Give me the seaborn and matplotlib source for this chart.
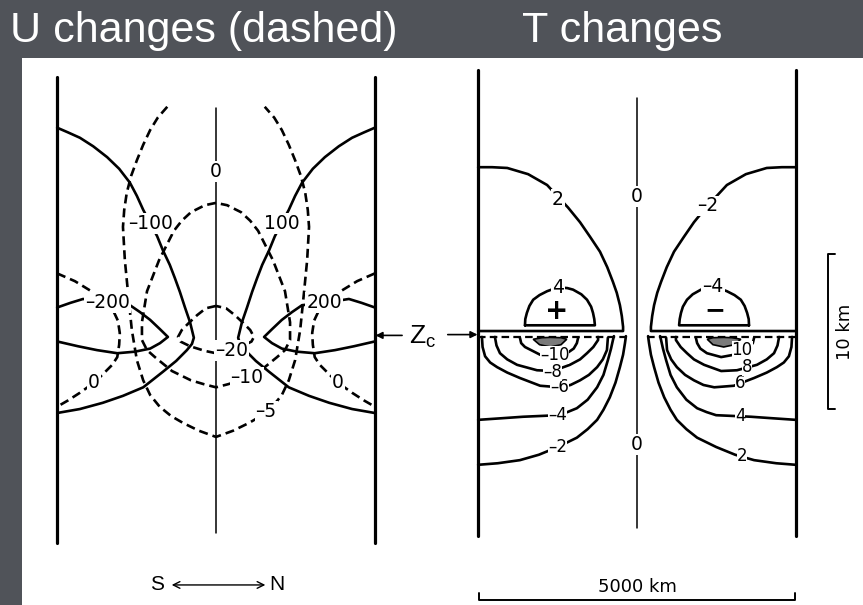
import numpy as np
import matplotlib
matplotlib.use("Agg")
import matplotlib.pyplot as plt
import seaborn as sns

# ---------------------------------------------------------------------------
# Contour traces.  x = distance from the channel centre (km, south < 0),
# z = height above the ground (km).  Each trace is given for the southern
# half of the channel; the northern half is its mirror image.
# ---------------------------------------------------------------------------

# U panel: solid contours
u_solid_100_x = [-2510, -2340, -2150, -1940, -1720, -1530, -1360, -1250, -1150, -1040, -930, -840, -730,
                 -650, -570, -490, -410, -350, -380, -460, -630, -840, -1150, -1470, -1790, -2150, -2500]
u_solid_100_z = [26.6, 26.3, 25.95, 25.4, 24.7, 23.95, 23.05, 22.2, 21.3, 20.45, 19.6, 18.7, 17.75,
                 16.9, 16.0, 15.0, 14.05, 13.05, 12.65, 12.25, 11.55, 10.85, 9.85, 9.3, 8.85, 8.45, 8.2]
u_solid_200_x = [-2510, -2300, -2100, -1710, -1360, -1200, -1040, -885, -760, -885, -1040, -1280, -1560,
                 -1880, -2180, -2500]
u_solid_200_z = [15.0, 15.3, 15.55, 15.3, 15.15, 14.7, 14.2, 13.6, 13.1, 12.7, 12.35, 12.15, 12.05,
                 12.25, 12.5, 12.8]

# U panel: dashed contours
u_dash_0_x = [-2510, -2230, -1990, -1790, -1630, -1550, -1520, -1530, -1560, -1640, -1750, -1910, -2150,
              -2340, -2510]
u_dash_0_z = [17.2, 16.7, 16.1, 15.55, 14.85, 14.15, 13.35, 12.6, 11.8, 11.3, 10.85, 10.2, 9.5, 9.0, 8.6]
u_dash_5_x = [-770, -920, -1040, -1150, -1250, -1340, -1410, -1450, -1470, -1440, -1390, -1330, -1250,
              -1150, -1040, -890, -710, -520, -270, 0]
u_dash_5_z = [27.95, 27.25, 26.45, 25.5, 24.5, 23.5, 22.4, 21.3, 20.2, 18.05, 15.95, 13.55, 11.6,
              10.3, 9.35, 8.6, 8.0, 7.55, 7.05, 6.65]
u_dash_10_x = [0, -175, -395, -540, -665, -900, -1090, -1170, -1170, -1090, -965, -695, -395, -190, 0]
u_dash_10_z = [21.75, 21.6, 21.15, 20.6, 19.95, 18.05, 16.05, 14.05, 12.9, 12.25, 11.8, 10.9, 10.3,
               10.05, 9.85]
u_dash_20_x = [0, -160, -300, -430, -540, -600, -560, -410, -175, 0]
u_dash_20_z = [15.1, 14.95, 14.5, 14.0, 13.55, 13.1, 12.8, 12.5, 12.2, 12.05]

# U panel labels: (text, x, z)
u_labels = [("\u2013100", -1040, 20.4), ("100", 1040, 20.4),
            ("\u2013200", -1710, 15.3), ("200", 1710, 15.3),
            ("0", -1930, 10.15), ("0", 1930, 10.15),
            ("\u20135", 790, 8.3), ("\u201310", 490, 10.5),
            ("\u201320", 250, 12.25), ("0", 0, 23.8)]

# T panel: contours above Zc
t_2_x = [-2510, -2290, -2050, -1720, -1420, -1250, -1090, -900, -740, -585, -470, -380, -320, -270,
         -240, -220, -220, -2510]
t_2_z = [23.6, 23.6, 23.55, 23.15, 22.45, 21.7, 21.0, 20.05, 19.1, 18.15, 17.15, 16.2, 15.5, 14.7,
         14.0, 13.3, 13.03, 13.03]
t_4_x = [-1770, -1765, -1740, -1700, -1640, -1540, -1420, -1250, -1100, -1010, -880, -790, -725, -695,
         -675, -665, -1770]
t_4_z = [13.4, 13.8, 14.2, 14.65, 15.05, 15.35, 15.6, 15.85, 15.8, 15.7, 15.4, 15.05, 14.6, 14.2,
         13.8, 13.4, 13.4]

# T panel: contours below Zc
t_m2_x = [-2510, -2200, -1850, -1550, -1250, -950, -780, -630, -530, -430, -340, -270, -220, -190, -175]
t_m2_z = [4.4, 4.5, 4.7, 5.05, 5.55, 6.15, 6.7, 7.3, 7.95, 8.75, 9.7, 10.7, 11.5, 12.25, 12.7]
t_m4_x = [-2510, -2150, -1800, -1250, -1100, -950, -780, -630, -530, -460, -410, -380, -365]
t_m4_z = [7.3, 7.4, 7.5, 7.6, 7.8, 8.05, 8.6, 9.4, 10.2, 11.15, 11.9, 12.45, 12.7]
t_m6_x = [-2450, -2440, -2400, -2320, -2210, -2050, -1850, -1530, -1220, -1050, -900, -760, -630, -540,
          -475, -460]
t_m6_z = [12.65, 12.0, 11.4, 11.0, 10.7, 10.35, 10.0, 9.5, 9.4, 9.55, 9.85, 10.2, 10.7, 11.2, 11.8, 12.6]
t_m8_x = [-2245, -2220, -2165, -2050, -1895, -1580, -1330, -1060, -900, -790, -690, -615, -615]
t_m8_z = [12.65, 12.1, 11.6, 11.2, 10.85, 10.5, 10.45, 10.85, 11.2, 11.6, 12.0, 12.45, 12.65]
t_m10_x = [-1850, -1830, -1770, -1530, -1330, -1105, -1000, -950, -930]
t_m10_z = [12.6, 12.25, 12.0, 11.5, 11.35, 11.6, 11.9, 12.25, 12.6]
t_core_x = [-1640, -1500, -1370, -1200, -1110, -1200, -1370, -1540, -1640]
t_core_z = [12.5, 12.6, 12.62, 12.6, 12.5, 12.15, 12.0, 12.15, 12.5]
t_zc_dash_x = [-2510, -180]
t_zc_dash_z = [12.65, 12.65]

t_labels_upper = [("2", -1250, 21.5), ("\u20132", 1120, 21.1),
                  ("4", -1250, 15.85), ("\u20134", 1200, 15.9),
                  ("0", 0, 21.7), ("0", 0, 5.7)]
t_labels_lower = [("\u20132", -1250, 5.55), ("2", 1660, 4.95),
                  ("\u20134", -1250, 7.6), ("4", 1630, 7.52),
                  ("\u20136", -1220, 9.4), ("6", 1630, 9.65),
                  ("\u20138", -1330, 10.4), ("8", 1740, 10.68),
                  ("\u201310", -1300, 11.5), ("10", 1660, 11.8)]

# channel frame
wall_x = [-2510, 2510]
wall_z = [-0.2, 29.9]
u_centre_z = [0.45, 27.9]
t_centre_z = [0.3, 28.05]
zc_level = 13.1

# scale bars
scale_z = [8.0, 18.0]
scale_x = [-2500, 2500]

# ---------------------------------------------------------------------------
W, H = 863, 605
KM_PER_PX = 15.8      # horizontal scale of the plate
PX_PER_KM = 15.5      # vertical scale of the plate
BG = "#505359"
INK = "black"

sns.set_theme(style="white")
plt.rcParams["font.family"] = ["Liberation Sans", "DejaVu Sans"]

fig = plt.figure(figsize=(W / 100, H / 100), dpi=100, facecolor=BG)


def panel(box, centre_px, base_px):
    x0, y0, x1, y1 = box
    ax = fig.add_axes([x0 / W, 1 - y1 / H, (x1 - x0) / W, (y1 - y0) / H])
    ax.set_facecolor("white")
    ax.set_xlim((x0 - centre_px) * KM_PER_PX, (x1 - centre_px) * KM_PER_PX)
    ax.set_ylim((base_px - y1) / PX_PER_KM, (base_px - y0) / PX_PER_KM)
    ax.set_xticks([])
    ax.set_yticks([])
    for s in ax.spines.values():
        s.set_visible(False)
    return ax


DASH = (0, (3.4, 1.9))


def trace(ax, xs, zs, dashed=False, lw=1.9):
    sns.lineplot(x=np.asarray(xs, float), y=np.asarray(zs, float), sort=False,
                 estimator=None, color=INK, lw=lw, ax=ax,
                 linestyle=DASH if dashed else "-",
                 solid_capstyle="round", solid_joinstyle="round")


def both_sides(ax, xs, zs, **kw):
    trace(ax, xs, zs, **kw)
    trace(ax, -np.asarray(xs, float), zs, **kw)


def loop(ax, xs, zs, **kw):
    xs = np.asarray(xs, float)
    zs = np.asarray(zs, float)
    trace(ax, np.concatenate([xs, -xs[::-1]]), np.concatenate([zs, zs[::-1]]), **kw)


def label(ax, text, x, z, size=13.5, pad=0.05):
    ax.text(x, z, text, ha="center", va="center", fontsize=size,
            family=["DejaVu Sans"], color=INK, zorder=5,
            bbox=dict(boxstyle="square,pad=%g" % pad, fc="white", ec="none"))


axU = panel((22, 58, 450, 605), 216, 540)
axT = panel((450, 58, 863, 605), 637, 533)

# ----- U panel -----
for x in wall_x:
    trace(axU, [x, x], wall_z, lw=2.3)
trace(axU, [0, 0], u_centre_z, lw=1.1)
both_sides(axU, u_solid_100_x, u_solid_100_z)
both_sides(axU, u_solid_200_x, u_solid_200_z)
both_sides(axU, u_dash_0_x, u_dash_0_z, dashed=True)
loop(axU, u_dash_5_x, u_dash_5_z, dashed=True)
loop(axU, u_dash_10_x, u_dash_10_z, dashed=True)
loop(axU, u_dash_20_x, u_dash_20_z, dashed=True)
for t, x, z in u_labels:
    label(axU, t, x, z)

axU.annotate("", xy=(-700, -2.9), xytext=(780, -2.9),
             arrowprops=dict(arrowstyle="<->", color=INK, lw=1.0, shrinkA=0, shrinkB=0))
axU.text(-930, -2.9, "S", ha="center", va="center", fontsize=15, color=INK)
axU.text(965, -2.9, "N", ha="center", va="center", fontsize=15, color=INK)

# Zc marker between the panels
axU.annotate("", xy=(2520, zc_level + 0.1), xytext=(2940, zc_level + 0.1),
             arrowprops=dict(arrowstyle="-|>", color=INK, lw=1.2, shrinkA=0, shrinkB=0,
                             mutation_scale=10), annotation_clip=False)
axU.text(3270, zc_level, r"$\mathregular{Z_c}$", ha="center", va="center",
         fontsize=19, color=INK, clip_on=False)
axT.annotate("", xy=(-2520, zc_level - 0.3), xytext=(-2990, zc_level - 0.3),
             arrowprops=dict(arrowstyle="-|>", color=INK, lw=1.2, shrinkA=0, shrinkB=0,
                             mutation_scale=10), annotation_clip=False)

# ----- T panel -----
for x in wall_x:
    trace(axT, [x, x], wall_z, lw=2.3)
trace(axT, [0, 0], t_centre_z, lw=1.1)
for xs, zs in [(t_2_x, t_2_z), (t_4_x, t_4_z), (t_m2_x, t_m2_z), (t_m4_x, t_m4_z),
               (t_m6_x, t_m6_z), (t_m8_x, t_m8_z), (t_m10_x, t_m10_z)]:
    both_sides(axT, xs, zs)
both_sides(axT, t_zc_dash_x, t_zc_dash_z, dashed=True, lw=1.6)
for sgn in (1, -1):
    axT.fill(sgn * np.asarray(t_core_x, float), t_core_z, facecolor="#7a7a7a",
             edgecolor=INK, lw=1.2, zorder=3)
for t, x, z in t_labels_upper:
    label(axT, t, x, z)
for t, x, z in t_labels_lower:
    label(axT, t, x, z, size=12, pad=0.0)
axT.text(-1264, 14.3, "+", ha="center", va="center", fontsize=20, fontweight="bold",
         family=["DejaVu Sans"], color=INK)
axT.text(1232, 14.35, "\u2212", ha="center", va="center", fontsize=18, fontweight="bold",
         family=["DejaVu Sans"], color=INK)

# 10 km bracket
trace(axT, [3130, 3020, 3020, 3130], [scale_z[0], scale_z[0], scale_z[1], scale_z[1]], lw=1.4)
axT.text(3290, 13.0, "10 km", rotation=90, ha="center", va="center", fontsize=13,
         family=["DejaVu Sans"], color=INK)
# 5000 km bar
trace(axT, [scale_x[0], scale_x[0], scale_x[1], scale_x[1]], [-3.85, -4.3, -4.3, -3.85], lw=1.4)
axT.text(0, -3.5, "5000 km", ha="center", va="center", fontsize=13,
         family=["DejaVu Sans"], color=INK)

# slide titles
fig.text(10 / W, 1 - 42 / H, "U changes (dashed)", color="white", fontsize=31,
         va="baseline", ha="left")
fig.text(522 / W, 1 - 42 / H, "T changes", color="white", fontsize=31,
         va="baseline", ha="left")

fig.savefig("out.png", dpi=100, facecolor=BG)
